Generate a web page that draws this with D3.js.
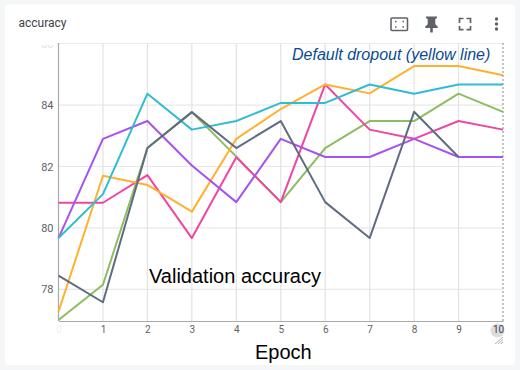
<!DOCTYPE html>
<html><head><meta charset="utf-8">
<script src="https://cdn.jsdelivr.net/npm/d3@7"></script>
<style>
html,body{margin:0;padding:0;background:#f5f6f8;overflow:hidden}
svg{display:block}
text{font-family:Roboto,sans-serif}
</style></head><body>
<svg id="c" width="520" height="370"></svg>
<script>
const epochs=[0,1,2,3,4,5,6,7,8,9,10];
const yTicks=[78,80,82,84,86];
const green =[77.0,78.15,82.6,83.77,82.32,80.84,82.6,83.48,83.48,84.37,83.78];
const grey  =[78.45,77.58,82.6,83.77,82.6,83.48,80.84,79.67,83.78,82.31];
const pink  =[80.82,80.82,81.72,79.67,82.3,80.84,84.67,83.2,82.9,83.48,83.2];
const purple=[79.67,82.9,83.48,82.03,80.84,82.9,82.31,82.31,82.9,82.31,82.31];
const teal  =[79.67,81.1,84.37,83.2,83.48,84.07,84.07,84.67,84.37,84.67,84.67];
const yellow=[77.27,81.7,81.4,80.53,82.9,83.87,84.67,84.38,85.27,85.27,84.97];
const seriesList=[[green,"#8cbd5e"],[pink,"#ef45a3"],[yellow,"#ffb12e"],[purple,"#a553ee"],[teal,"#2fbdd3"],[grey,"#5f6c82"]];

const svg=d3.select("#c");
svg.append("rect").attr("x",5).attr("y",4.5).attr("width",510).attr("height",360.5).attr("rx",4).attr("fill","#fff");

const L=58.5,R=503,T=43,B=321;
const x=d3.scaleLinear().domain([0,10]).range([L,R]);
const y=d3.scaleLinear().domain([76.97,86.02]).range([B,T]);

svg.append("text").attr("x",18.5).attr("y",27).attr("font-size",12).attr("fill","#3f4246").text("accuracy");

const clip=svg.append("defs").append("clipPath").attr("id","topclip");
clip.append("rect").attr("x",-58).attr("y",T+2).attr("width",520).attr("height",330);

// grid
const gGrid=svg.append("g");
gGrid.selectAll("line.h").data(yTicks.slice(0,4)).join("line").attr("class","h")
 .attr("x1",L).attr("x2",R).attr("y1",d=>y(d)).attr("y2",d=>y(d)).attr("stroke","#e8e8e8").attr("stroke-width",1.2);
gGrid.selectAll("line.v").data(epochs.slice(1,10)).join("line").attr("class","v")
 .attr("x1",d=>x(d)).attr("x2",d=>x(d)).attr("y1",T).attr("y2",B).attr("stroke","#e2e2e2").attr("stroke-width",1.2);
gGrid.append("line").attr("x1",L).attr("x2",R).attr("y1",T+.5).attr("y2",T+.5).attr("stroke","#ececec");

// axes
const ax=svg.append("g").attr("transform",`translate(0,${B})`)
 .call(d3.axisBottom(x).tickValues(epochs).tickSize(0).tickPadding(5).tickFormat(d3.format("d")));
ax.select(".domain").attr("stroke","#a9a9a9").attr("stroke-width",1.2);
ax.selectAll("text").attr("font-size",10).attr("fill","#616161").style("font-family","Roboto,sans-serif");
ax.selectAll(".tick").filter(d=>d===0).select("text").attr("fill","#f0f0f0");

const ay=svg.append("g").attr("transform",`translate(${L},0)`).attr("clip-path","url(#topclip)")
 .call(d3.axisLeft(y).tickValues(yTicks).tickSize(0).tickPadding(5).tickFormat(d3.format("d")));
ay.select(".domain").remove();
ay.selectAll("text").attr("font-size",11).attr("fill","#616161").style("font-family","Roboto,sans-serif");
ay.selectAll(".tick").filter(d=>d===86).select("text").attr("fill","#e2e2e2");
svg.append("line").attr("x1",L).attr("x2",L).attr("y1",T).attr("y2",B).attr("stroke","#a9a9a9").attr("stroke-width",1.2);

// lines
const line=d3.line().x((d,i)=>x(epochs[i])).y(d=>y(d));
svg.selectAll("path.s").data(seriesList).join("path").attr("class","s")
 .attr("d",d=>line(d[0])).attr("fill","none").attr("stroke",d=>d[1]).attr("stroke-width",2).attr("stroke-linejoin","round");

// hover line
svg.append("line").attr("x1",R).attr("x2",R).attr("y1",T).attr("y2",B).attr("stroke","#8a8a8a").attr("stroke-width",1).attr("stroke-dasharray","2,2");

// highlighted last tick
const lastG=ax.selectAll(".tick").filter(d=>d===10);
lastG.insert("circle","text").attr("cx",-6).attr("cy",9.5).attr("r",7).attr("fill","#dddddd");
lastG.select("text").attr("fill","#444").attr("dx",-5);

// annotations
svg.append("text").attr("x",292).attr("y",60).attr("font-size",16).attr("font-style","italic").attr("fill","#0b4b92")
 .style("font-family","'Liberation Sans',sans-serif").text("Default dropout (yellow line)");
svg.append("text").attr("x",149).attr("y",282.5).attr("font-size",20).attr("fill","#000")
 .style("font-family","'Liberation Sans',sans-serif").text("Validation accuracy");
svg.append("text").attr("x",255).attr("y",359).attr("font-size",20).attr("fill","#000")
 .style("font-family","'Liberation Sans',sans-serif").text("Epoch");

// toolbar icons
const ic=svg.append("g").attr("fill","none").attr("stroke","#5f6368");
ic.append("rect").attr("x",391).attr("y",18).attr("width",16.5).attr("height",12.5).attr("rx",1).attr("stroke-width",1.6);
ic.append("path").attr("d","M395 21.5h1.5M402.5 21.5h1.5M395 27h1.5M402.5 27h1.5").attr("stroke-width",1.3);
svg.append("path").attr("fill","#5f6368").attr("d","M426 16.5h11v1.5l-1.7 1v5.2l2.4 2.3v1.5h-4.9v4.5h-2.6v-4.5h-4.9v-1.5l2.4-2.3v-5.2l-1.7-1z");
ic.append("path").attr("stroke-width",1.7).attr("d","M459.5 23v-4.5h4M466.5 18.5h4v4.5M470.5 26v3.6h-4M463.5 29.6h-4v-3.6");
svg.append("g").attr("fill","#5f6368").selectAll("circle").data([19,24,29]).join("circle")
 .attr("cx",496.5).attr("cy",d=>d).attr("r",1.7);

// resize handle
svg.append("path").attr("stroke","#9a9a9a").attr("stroke-width",.8).attr("fill","none")
 .attr("d","M495 344l8-7M498 344l5-4.5M501 344l2-2");
</script>
</body></html>
